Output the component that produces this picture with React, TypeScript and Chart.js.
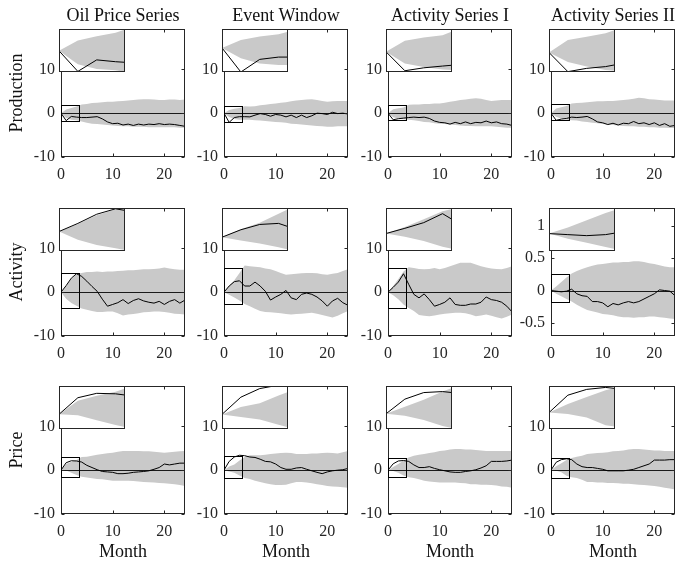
import React, { useEffect, useRef } from "react";
import { Chart, registerables } from "chart.js";

Chart.register(...registerables);

// ---------------- data ----------------
const months = [0, 1, 2, 3, 4, 5, 6, 7, 8, 9, 10, 11, 12, 13, 14, 15, 16, 17, 18, 19, 20, 21, 22, 23, 24];
const columnTitles = ["Oil Price Series", "Event Window", "Activity Series I", "Activity Series II"];
const rowTitles = ["Production", "Activity", "Price"];
const xAxisTitle = "Month";
const xTickValues = [0, 10, 20];
const wideYTicks = [-10, 0, 10];
const narrowYTicks = [-0.5, 0, 0.5, 1];
const xRange = [0, 24];
const wideYRange = [-10, 19.2];
const narrowYRange = [-0.7, 1.27];
const zoomXRange = [0, 3.5];

// Production
const prodOilLine = [0, -1.7, -0.75, -0.9, -1.0, -1.0, -0.9, -0.8, -1.3, -2.0, -2.4, -2.3, -2.7, -2.5, -2.8, -2.5, -2.7, -2.5, -2.6, -2.4, -2.6, -2.5, -2.6, -2.8, -3.0];
const prodOilUpper = [0, 0.85, 1.2, 1.5, 2.0, 2.1, 2.3, 2.4, 2.5, 2.6, 2.6, 2.7, 2.8, 2.9, 3.0, 3.1, 3.2, 3.2, 3.1, 3.0, 3.0, 3.1, 3.1, 3.0, 3.1];
const prodOilLower = [0, -1.1, -1.5, -1.6, -1.9, -2.2, -2.4, -2.5, -2.6, -2.7, -2.8, -2.9, -3.0, -3.0, -3.1, -3.1, -3.1, -3.2, -3.2, -3.2, -3.2, -3.2, -3.2, -3.3, -3.3];
const prodOilZoomY = [-1.75, 1.8];

const prodEventLine = [0, -2.1, -1.0, -0.8, -0.8, -0.85, -0.45, -0.1, -0.3, -0.7, -0.3, -0.45, -0.85, -0.45, -1.0, -0.45, -1.0, -0.6, 0.0, -0.1, -0.3, 0.2, -0.1, 0.0, -0.2];
const prodEventUpper = [0, 0.7, 1.0, 1.2, 1.6, 1.5, 1.6, 1.8, 1.9, 2.1, 2.2, 2.4, 2.5, 2.7, 2.9, 3.0, 3.1, 3.2, 3.0, 2.8, 2.6, 2.7, 2.8, 2.8, 2.8];
const prodEventLower = [0, -0.9, -1.35, -1.5, -1.5, -1.5, -1.6, -1.7, -1.8, -1.9, -2.0, -2.1, -2.2, -2.4, -2.5, -2.6, -2.7, -2.8, -2.9, -3.0, -3.1, -3.1, -3.0, -3.0, -3.0];
const prodEventZoomY = [-2.1, 1.65];

const prodAct1Line = [0, -1.5, -1.27, -1.13, -1.0, -0.9, -1.0, -0.9, -1.2, -1.8, -2.1, -2.2, -2.5, -2.1, -2.4, -2.0, -2.4, -2.1, -2.2, -1.8, -2.2, -2.0, -2.4, -2.5, -2.8];
const prodAct1Upper = [0, 0.87, 1.13, 1.3, 1.9, 2.0, 2.0, 2.1, 2.1, 2.2, 2.2, 2.4, 2.6, 2.8, 3.0, 3.1, 3.3, 3.4, 3.3, 3.0, 2.8, 2.9, 3.0, 3.0, 3.0];
const prodAct1Lower = [0, -0.92, -1.2, -1.4, -1.5, -1.6, -1.8, -2.0, -2.1, -2.3, -2.4, -2.5, -2.6, -2.7, -2.8, -2.9, -2.9, -3.0, -3.0, -3.0, -3.0, -3.1, -3.2, -3.3, -3.3];
const prodAct1ZoomY = [-1.6, 1.8];

const prodAct2Line = [0, -1.63, -1.35, -1.2, -0.9, -1.0, -0.9, -0.75, -1.3, -2.0, -2.2, -2.6, -2.3, -2.7, -2.3, -2.4, -1.9, -2.4, -2.2, -2.6, -2.2, -2.8, -2.4, -3.0, -2.8];
const prodAct2Upper = [0, 1.06, 1.35, 1.63, 2.2, 2.3, 2.4, 2.5, 2.6, 2.7, 2.7, 2.8, 2.8, 2.9, 3.0, 3.1, 3.3, 3.5, 3.4, 3.2, 3.1, 3.0, 2.9, 2.9, 2.9];
const prodAct2Lower = [0, -0.8, -1.2, -1.5, -1.6, -1.7, -1.9, -2.0, -2.2, -2.3, -2.5, -2.6, -2.7, -2.8, -2.9, -3.0, -3.0, -3.1, -3.1, -3.2, -3.2, -3.3, -3.3, -3.4, -3.4];
const prodAct2ZoomY = [-1.66, 2.0];

// Activity
const actOilLine = [0, 1.5, 3.2, 4.2, 3.6, 2.5, 1.3, 0.2, -1.6, -3.2, -2.8, -2.4, -1.7, -2.6, -1.9, -1.5, -2.0, -2.3, -2.5, -2.1, -2.8, -2.1, -1.7, -2.5, -1.8];
const actOilUpper = [0, 1.4, 3.0, 4.1, 4.4, 4.6, 4.6, 4.7, 4.6, 4.7, 4.7, 4.8, 4.9, 5.0, 5.0, 5.1, 5.2, 5.2, 5.3, 5.4, 5.6, 5.4, 5.2, 5.1, 5.1];
const actOilLower = [0, -1.5, -2.5, -3.1, -3.7, -4.0, -4.3, -4.5, -4.5, -4.4, -4.4, -4.8, -5.3, -5.1, -5.0, -4.8, -4.6, -4.5, -4.4, -4.4, -4.5, -4.7, -4.9, -5.0, -5.1];
const actOilZoomY = [-3.6, 4.35];

const actEventLine = [0, 1.4, 2.4, 2.6, 1.4, 1.4, 2.3, 1.4, 0.2, -1.8, -1.1, -0.5, 0.4, -1.3, -1.7, -0.5, -0.2, -0.5, -1.1, -2.0, -3.2, -2.0, -1.4, -2.4, -3.0];
const actEventUpper = [0, 1.5, 2.7, 4.4, 6.1, 5.9, 5.8, 5.7, 5.4, 5.2, 4.8, 4.4, 4.0, 4.1, 4.2, 4.3, 4.4, 4.4, 4.3, 4.1, 4.0, 4.2, 4.4, 4.8, 5.2];
const actEventLower = [0, -0.6, -1.2, -1.9, -2.7, -3.2, -3.8, -4.3, -4.5, -4.6, -4.7, -4.8, -5.0, -5.1, -5.0, -4.9, -4.8, -4.7, -4.9, -5.2, -5.5, -5.8, -5.4, -4.8, -4.3];
const actEventZoomY = [-2.6, 5.5];

const actAct1Line = [0, 1.1, 2.3, 4.2, 1.8, -0.5, -1.3, -0.4, -1.7, -3.2, -2.8, -2.3, -1.3, -2.8, -3.0, -3.0, -2.7, -2.7, -2.3, -1.1, -1.7, -1.9, -2.3, -3.2, -4.5];
const actAct1Upper = [0, 1.4, 3.0, 4.7, 5.7, 5.5, 5.3, 5.2, 5.3, 5.5, 5.2, 5.5, 5.9, 6.3, 6.7, 6.7, 6.7, 6.3, 5.9, 5.6, 5.4, 5.3, 5.2, 5.5, 5.9];
const actAct1Lower = [0, -0.7, -1.6, -2.8, -3.6, -4.3, -5.2, -5.4, -5.5, -5.3, -5.1, -4.9, -4.8, -4.7, -4.7, -4.8, -5.1, -5.5, -5.3, -5.1, -5.4, -5.7, -6.0, -5.6, -5.1];
const actAct1ZoomY = [-3.7, 5.4];

const actAct2Line = [0, -0.01, -0.02, -0.01, 0.02, -0.05, -0.08, -0.09, -0.17, -0.17, -0.19, -0.25, -0.2, -0.22, -0.19, -0.17, -0.19, -0.17, -0.13, -0.09, -0.05, 0.01, 0.0, -0.01, -0.08];
const actAct2Upper = [0, 0.06, 0.13, 0.2, 0.26, 0.3, 0.33, 0.36, 0.38, 0.4, 0.41, 0.42, 0.43, 0.43, 0.44, 0.44, 0.45, 0.45, 0.44, 0.42, 0.41, 0.39, 0.37, 0.36, 0.36];
const actAct2Lower = [0, -0.05, -0.09, -0.13, -0.17, -0.22, -0.26, -0.3, -0.32, -0.34, -0.36, -0.37, -0.38, -0.4, -0.41, -0.41, -0.42, -0.41, -0.41, -0.4, -0.4, -0.41, -0.42, -0.43, -0.44];
const actAct2ZoomY = [-0.17, 0.25];

// Price
const priceOilLine = [0, 1.7, 2.15, 2.1, 1.85, 1.1, 0.6, 0.1, -0.3, -0.4, -0.5, -0.8, -0.8, -0.7, -0.5, -0.4, -0.3, -0.15, 0.2, 0.6, 1.4, 1.2, 1.4, 1.6, 1.6];
const priceOilUpper = [0, 1.4, 1.9, 2.3, 3.0, 3.05, 3.3, 3.5, 3.7, 3.85, 4.0, 4.2, 4.4, 4.4, 4.4, 4.4, 4.3, 4.3, 4.2, 4.1, 4.0, 4.1, 4.2, 4.3, 4.4];
const priceOilLower = [0, -0.1, -0.6, -1.1, -1.5, -1.7, -1.85, -2.0, -2.1, -2.25, -2.4, -2.4, -2.4, -2.4, -2.5, -2.6, -2.7, -2.75, -2.8, -2.9, -3.0, -3.1, -3.2, -3.4, -3.6];
const priceOilZoomY = [-1.5, 2.9];

const priceEventLine = [0, 2.0, 3.0, 3.4, 3.3, 3.0, 2.9, 2.5, 2.0, 1.9, 1.4, 0.6, 0.2, 0.2, 0.5, 0.6, 0.2, -0.15, -0.5, -0.8, -0.4, -0.15, 0.0, 0.1, 0.4];
const priceEventUpper = [0, 0.85, 1.3, 2.2, 3.0, 3.4, 3.4, 3.4, 3.5, 3.7, 3.8, 3.9, 4.0, 3.9, 3.7, 3.7, 3.7, 3.8, 3.8, 3.9, 4.0, 3.9, 3.8, 4.1, 4.4];
const priceEventLower = [0, -0.3, -0.6, -1.2, -1.8, -2.0, -2.4, -2.7, -3.0, -3.2, -3.4, -3.4, -3.3, -3.0, -2.7, -2.7, -2.8, -3.0, -3.2, -3.4, -3.6, -3.7, -3.8, -3.9, -4.0];
const priceEventZoomY = [-1.7, 3.3];

const priceAct1Line = [0, 1.45, 2.1, 2.2, 2.0, 1.2, 0.6, 0.6, 0.8, 0.4, 0.1, -0.15, -0.4, -0.5, -0.5, -0.3, -0.15, 0.1, 0.5, 1.0, 2.0, 2.0, 2.0, 2.1, 2.3];
const priceAct1Upper = [0, 0.7, 1.4, 2.2, 2.9, 3.3, 3.5, 3.7, 3.9, 4.1, 4.4, 4.5, 4.7, 4.8, 4.8, 4.7, 4.7, 4.6, 4.5, 4.4, 4.4, 4.4, 4.4, 4.4, 4.4];
const priceAct1Lower = [0, -0.2, -0.6, -1.2, -1.6, -1.8, -2.1, -2.4, -2.6, -2.7, -2.8, -2.8, -2.8, -2.8, -2.9, -3.0, -3.2, -3.2, -3.3, -3.3, -3.4, -3.5, -3.7, -3.8, -4.0];
const priceAct1ZoomY = [-1.5, 2.75];

const priceAct2Line = [0, 1.8, 2.4, 2.6, 2.4, 1.4, 0.8, 0.6, 0.6, 0.4, 0.2, -0.15, -0.15, -0.15, -0.15, 0.0, 0.2, 0.6, 1.0, 1.4, 2.3, 2.3, 2.3, 2.4, 2.4];
const priceAct2Upper = [0, 0.9, 1.6, 2.3, 2.8, 3.05, 3.3, 3.7, 3.8, 3.9, 4.0, 4.1, 4.3, 4.4, 4.5, 4.7, 4.8, 4.8, 4.7, 4.6, 4.5, 4.5, 4.4, 4.4, 4.4];
const priceAct2Lower = [0, -0.15, -0.5, -1.3, -1.6, -1.8, -2.2, -2.7, -2.7, -2.8, -2.8, -2.9, -2.9, -3.0, -3.1, -3.1, -3.2, -3.3, -3.4, -3.5, -3.6, -3.8, -4.0, -4.2, -4.4];
const priceAct2ZoomY = [-1.7, 2.75];

type PanelData = {
  row: number; col: number;
  line: number[]; upper: number[]; lower: number[];
  zoomY: number[]; yRange: number[]; yTicks: number[];
};

const panels: PanelData[] = [
  { row: 0, col: 0, line: prodOilLine, upper: prodOilUpper, lower: prodOilLower, zoomY: prodOilZoomY, yRange: wideYRange, yTicks: wideYTicks },
  { row: 0, col: 1, line: prodEventLine, upper: prodEventUpper, lower: prodEventLower, zoomY: prodEventZoomY, yRange: wideYRange, yTicks: wideYTicks },
  { row: 0, col: 2, line: prodAct1Line, upper: prodAct1Upper, lower: prodAct1Lower, zoomY: prodAct1ZoomY, yRange: wideYRange, yTicks: wideYTicks },
  { row: 0, col: 3, line: prodAct2Line, upper: prodAct2Upper, lower: prodAct2Lower, zoomY: prodAct2ZoomY, yRange: wideYRange, yTicks: wideYTicks },
  { row: 1, col: 0, line: actOilLine, upper: actOilUpper, lower: actOilLower, zoomY: actOilZoomY, yRange: wideYRange, yTicks: wideYTicks },
  { row: 1, col: 1, line: actEventLine, upper: actEventUpper, lower: actEventLower, zoomY: actEventZoomY, yRange: wideYRange, yTicks: wideYTicks },
  { row: 1, col: 2, line: actAct1Line, upper: actAct1Upper, lower: actAct1Lower, zoomY: actAct1ZoomY, yRange: wideYRange, yTicks: wideYTicks },
  { row: 1, col: 3, line: actAct2Line, upper: actAct2Upper, lower: actAct2Lower, zoomY: actAct2ZoomY, yRange: narrowYRange, yTicks: narrowYTicks },
  { row: 2, col: 0, line: priceOilLine, upper: priceOilUpper, lower: priceOilLower, zoomY: priceOilZoomY, yRange: wideYRange, yTicks: wideYTicks },
  { row: 2, col: 1, line: priceEventLine, upper: priceEventUpper, lower: priceEventLower, zoomY: priceEventZoomY, yRange: wideYRange, yTicks: wideYTicks },
  { row: 2, col: 2, line: priceAct1Line, upper: priceAct1Upper, lower: priceAct1Lower, zoomY: priceAct1ZoomY, yRange: wideYRange, yTicks: wideYTicks },
  { row: 2, col: 3, line: priceAct2Line, upper: priceAct2Upper, lower: priceAct2Lower, zoomY: priceAct2ZoomY, yRange: wideYRange, yTicks: wideYTicks },
];

// ---------------- layout & style ----------------
const FONT = "'Liberation Serif', 'DejaVu Serif', serif";
const INK = "#262626";
const BAND = "#c9c9c9";
const AXIS_LEFT = [61, 224, 388, 551];
const AXIS_TOP = [29, 208, 386];
const AXIS_W = 124;
const AXIS_H = 128;
const PAD_L = 50;
const PAD_T = 4;
const PAD_R = 6;
const PAD_B = 32;
const INSET_W = 66;
const INSET_H = 43;
const TICK_FONT = 16;
const LABEL_FONT = 18;

function crisp(v: number) {
  return Math.round(v) + 0.5;
}

function mainConfig(p: PanelData): any {
  const framePlugin = {
    id: "frame" + p.row + p.col,
    afterDatasetDraw(chart: any, args: any) {
      if (args.index !== 1) return;
      const { ctx, chartArea, scales } = chart;
      const y0 = crisp(scales.y.getPixelForValue(0));
      ctx.save();
      ctx.strokeStyle = "#1a1a1a";
      ctx.lineWidth = 1;
      ctx.beginPath();
      ctx.moveTo(chartArea.left, y0);
      ctx.lineTo(chartArea.right, y0);
      ctx.stroke();
      ctx.restore();
    },
    afterDraw(chart: any) {
      const { ctx, chartArea, scales } = chart;
      const l = crisp(chartArea.left);
      const r = Math.round(chartArea.right) - 0.5;
      const t = crisp(chartArea.top);
      const b = Math.round(chartArea.bottom) - 0.5;
      ctx.save();
      ctx.strokeStyle = INK;
      ctx.lineWidth = 1;
      ctx.strokeRect(l, t, r - l, b - t);
      ctx.beginPath();
      for (const v of xTickValues) {
        const px = crisp(scales.x.getPixelForValue(v));
        ctx.moveTo(px, b); ctx.lineTo(px, b - 3);
        ctx.moveTo(px, t); ctx.lineTo(px, t + 3);
      }
      for (const v of p.yTicks) {
        const py = crisp(scales.y.getPixelForValue(v));
        ctx.moveTo(l, py); ctx.lineTo(l + 3, py);
        ctx.moveTo(r, py); ctx.lineTo(r - 3, py);
      }
      ctx.stroke();
      // zoom box
      const zx0 = crisp(scales.x.getPixelForValue(zoomXRange[0]));
      const zx1 = crisp(scales.x.getPixelForValue(zoomXRange[1]));
      const zy0 = crisp(scales.y.getPixelForValue(p.zoomY[1]));
      const zy1 = crisp(scales.y.getPixelForValue(p.zoomY[0]));
      ctx.strokeStyle = "#000";
      ctx.strokeRect(zx0, zy0, zx1 - zx0, zy1 - zy0);
      ctx.restore();
    },
  };
  return {
    type: "line",
    data: {
      labels: months,
      datasets: [
        { data: p.lower, borderColor: "transparent", borderWidth: 0, pointRadius: 0, fill: false, order: 3 },
        { data: p.upper, borderColor: "transparent", borderWidth: 0, pointRadius: 0, fill: "-1", backgroundColor: BAND, order: 2 },
        { data: p.line, borderColor: "#000", borderWidth: 1, pointRadius: 0, fill: false, order: 0 },
      ],
    },
    options: {
      responsive: false,
      maintainAspectRatio: false,
      animation: false,
      devicePixelRatio: 1,
      events: [],
      layout: { padding: { left: 0, top: PAD_T, right: PAD_R, bottom: 0 } },
      elements: { line: { tension: 0 }, point: { radius: 0 } },
      plugins: { legend: { display: false }, tooltip: { enabled: false } },
      scales: {
        x: {
          type: "linear",
          min: xRange[0],
          max: xRange[1],
          grid: { display: false, drawTicks: false },
          border: { display: false },
          afterBuildTicks: (s: any) => { s.ticks = xTickValues.map((v) => ({ value: v })); },
          afterFit: (s: any) => { s.height = PAD_B; s.paddingLeft = 0; s.paddingRight = 0; },
          ticks: {
            color: INK, font: { family: FONT, size: TICK_FONT }, padding: 8,
            maxRotation: 0, autoSkip: false, callback: (v: any) => String(v),
          },
        },
        y: {
          type: "linear",
          min: p.yRange[0],
          max: p.yRange[1],
          grid: { display: false, drawTicks: false },
          border: { display: false },
          afterBuildTicks: (s: any) => { s.ticks = p.yTicks.map((v) => ({ value: v })); },
          afterFit: (s: any) => { s.width = PAD_L; s.paddingTop = 0; s.paddingBottom = 0; },
          ticks: {
            color: INK, font: { family: FONT, size: TICK_FONT }, padding: 6,
            autoSkip: false, callback: (v: any) => String(v),
          },
        },
      },
    },
    plugins: [framePlugin],
  };
}

function insetConfig(p: PanelData): any {
  const insetPlugin = {
    id: "inset" + p.row + p.col,
    beforeDraw(chart: any) {
      const { ctx, width, height } = chart;
      ctx.save();
      ctx.fillStyle = "#fff";
      ctx.fillRect(0, 0, width, height);
      ctx.restore();
    },
    afterDraw(chart: any) {
      const { ctx, width, height } = chart;
      ctx.save();
      ctx.strokeStyle = INK;
      ctx.lineWidth = 1;
      ctx.strokeRect(0.5, 0.5, width - 1, height - 1);
      ctx.restore();
    },
  };
  return {
    type: "line",
    data: {
      labels: months,
      datasets: [
        { data: p.lower, borderColor: "transparent", borderWidth: 0, pointRadius: 0, fill: false, order: 3 },
        { data: p.upper, borderColor: "transparent", borderWidth: 0, pointRadius: 0, fill: "-1", backgroundColor: BAND, order: 2 },
        { data: p.line, borderColor: "#000", borderWidth: 1, pointRadius: 0, fill: false, order: 0 },
      ],
    },
    options: {
      responsive: false,
      maintainAspectRatio: false,
      animation: false,
      devicePixelRatio: 1,
      events: [],
      layout: { padding: 0 },
      elements: { line: { tension: 0 }, point: { radius: 0 } },
      plugins: { legend: { display: false }, tooltip: { enabled: false } },
      scales: {
        x: { type: "linear", min: zoomXRange[0], max: zoomXRange[1], display: false },
        y: { type: "linear", min: p.zoomY[0], max: p.zoomY[1], display: false },
      },
    },
    plugins: [insetPlugin],
  };
}

function Panel({ p }: { p: PanelData }) {
  const mainRef = useRef<HTMLCanvasElement>(null);
  const insetRef = useRef<HTMLCanvasElement>(null);
  useEffect(() => {
    const main = new Chart(mainRef.current as HTMLCanvasElement, mainConfig(p));
    const inset = new Chart(insetRef.current as HTMLCanvasElement, insetConfig(p));
    return () => {
      main.destroy();
      inset.destroy();
    };
  }, [p]);
  const axL = AXIS_LEFT[p.col];
  const axT = AXIS_TOP[p.row];
  return (
    <>
      <canvas
        ref={mainRef}
        width={PAD_L + AXIS_W + PAD_R}
        height={PAD_T + AXIS_H + PAD_B}
        style={{ position: "absolute", left: axL - PAD_L, top: axT - PAD_T }}
      />
      <canvas
        ref={insetRef}
        width={INSET_W}
        height={INSET_H}
        style={{ position: "absolute", left: axL - 2, top: axT }}
      />
    </>
  );
}

const textStyle: React.CSSProperties = {
  position: "absolute",
  fontFamily: FONT,
  fontSize: LABEL_FONT,
  lineHeight: LABEL_FONT + "px",
  whiteSpace: "nowrap",
  color: "#111",
};

export default function App() {
  return (
    <div style={{ position: "absolute", left: 0, top: 0, width: 679, height: 561, background: "#fff", overflow: "hidden" }}>
      {panels.map((p) => (
        <Panel key={p.row + "-" + p.col} p={p} />
      ))}
      {columnTitles.map((t, i) => (
        <div key={"t" + i} style={{ ...textStyle, left: AXIS_LEFT[i] + AXIS_W / 2, top: 6, transform: "translateX(-50%)" }}>
          {t}
        </div>
      ))}
      {rowTitles.map((t, i) => (
        <div
          key={"r" + i}
          style={{ ...textStyle, left: 16, top: AXIS_TOP[i] + AXIS_H / 2, transform: "translate(-50%, -50%) rotate(-90deg)" }}
        >
          {t}
        </div>
      ))}
      {AXIS_LEFT.map((l, i) => (
        <div key={"m" + i} style={{ ...textStyle, left: l + AXIS_W / 2, top: 542, transform: "translateX(-50%)" }}>
          {xAxisTitle}
        </div>
      ))}
    </div>
  );
}
